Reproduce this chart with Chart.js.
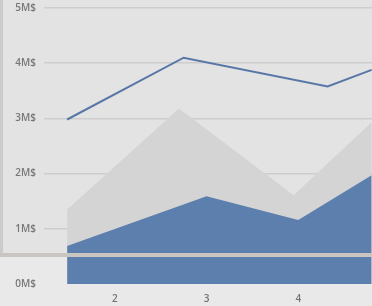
<!DOCTYPE html>
<html>
<head>
<meta charset="utf-8">
<script src="https://cdn.jsdelivr.net/npm/chart.js@4/dist/chart.umd.min.js"></script>
<style>
  html, body { margin: 0; padding: 0; background: #e9e9e9; }
  #wrap { width: 372px; height: 306px; position: relative; }
</style>
</head>
<body>
<div id="wrap"><canvas id="chart"></canvas></div>
<script>
// x ticks shown under the chart
const xTicks = [2, 3, 4];
const yTicks = [0, 1, 2, 3, 4, 5];

// top line (M$)
const lineX = [1.48, 2.75, 4.32, 4.8];
const lineY = [2.98, 4.10, 3.58, 3.88];

// light grey area (M$)
const greyX = [1.48, 2.70, 3.95, 4.8];
const greyY = [1.35, 3.18, 1.61, 2.93];

// blue area (M$)
const blueX = [1.48, 3.0, 4.0, 4.8];
const blueY = [0.69, 1.59, 1.16, 1.97];

const pts = (xs, ys) => xs.map((x, i) => ({ x: x, y: ys[i] }));

// panel look: darker upper panel, left border, band across the bottom
const panelPlugin = {
    id: 'panel',
    beforeDraw(chart) {
        const ctx = chart.ctx;
        ctx.save();
        ctx.fillStyle = '#e9e9e9';
        ctx.fillRect(0, 0, chart.width, chart.height);
        ctx.fillStyle = '#e3e3e3';
        ctx.fillRect(0, 0, chart.width, 254);
        ctx.fillStyle = '#cbcbcb';
        ctx.fillRect(0, 0, 3, 256);
        ctx.restore();
    },
    afterDatasetsDraw(chart) {
        const ctx = chart.ctx;
        ctx.save();
        ctx.fillStyle = '#c9c6c2';
        ctx.fillRect(0, 253, chart.width, 4);
        ctx.restore();
    }
};

new Chart(document.getElementById('chart').getContext('2d'), {
    type: 'line',
    data: {
        datasets: [
            {
                data: pts(lineX, lineY),
                borderColor: '#5876a6',
                borderWidth: 2,
                fill: false,
                pointRadius: 0,
                tension: 0
            },
            {
                data: pts(blueX, blueY),
                borderWidth: 0,
                backgroundColor: '#5c7fae',
                fill: 'origin',
                pointRadius: 0,
                tension: 0
            },
            {
                data: pts(greyX, greyY),
                borderWidth: 0,
                backgroundColor: '#d4d4d4',
                fill: 'origin',
                pointRadius: 0,
                tension: 0
            }
        ]
    },
    options: {
        responsive: true,
        maintainAspectRatio: false,
        animation: false,
        layout: { padding: { top: 8, right: 0, left: 0, bottom: 0 } },
        plugins: {
            legend: { display: false },
            tooltip: { enabled: false }
        },
        scales: {
            x: {
                type: 'linear',
                min: 1.228,
                max: 4.804,
                afterBuildTicks: axis => { axis.ticks = xTicks.map(v => ({ value: v })); },
                afterFit: scale => {
                    scale.height = 22;
                    scale.paddingLeft = 0;
                    scale.paddingRight = 0;
                },
                grid: { display: false, drawTicks: false },
                border: { display: false },
                ticks: {
                    padding: 9,
                    color: '#737373',
                    font: { family: "'Open Sans', sans-serif", size: 10, weight: '600' },
                    maxRotation: 0
                }
            },
            y: {
                min: 0,
                max: 5,
                afterBuildTicks: axis => { axis.ticks = yTicks.map(v => ({ value: v })); },
                afterFit: scale => {
                    scale.width = 44;
                    scale.paddingTop = 0;
                    scale.paddingBottom = 0;
                },
                grid: {
                    drawTicks: false,
                    color: c => c.tick && c.tick.value === 0 ? 'rgba(0,0,0,0)' : '#cdcdcd',
                    lineWidth: 1.5
                },
                border: { display: false },
                ticks: {
                    padding: 8,
                    color: '#777777',
                    font: { family: "'Open Sans', sans-serif", size: 10, weight: '600' },
                    callback: v => v + 'M$'
                }
            }
        }
    },
    plugins: [panelPlugin]
});
</script>
</body>
</html>
